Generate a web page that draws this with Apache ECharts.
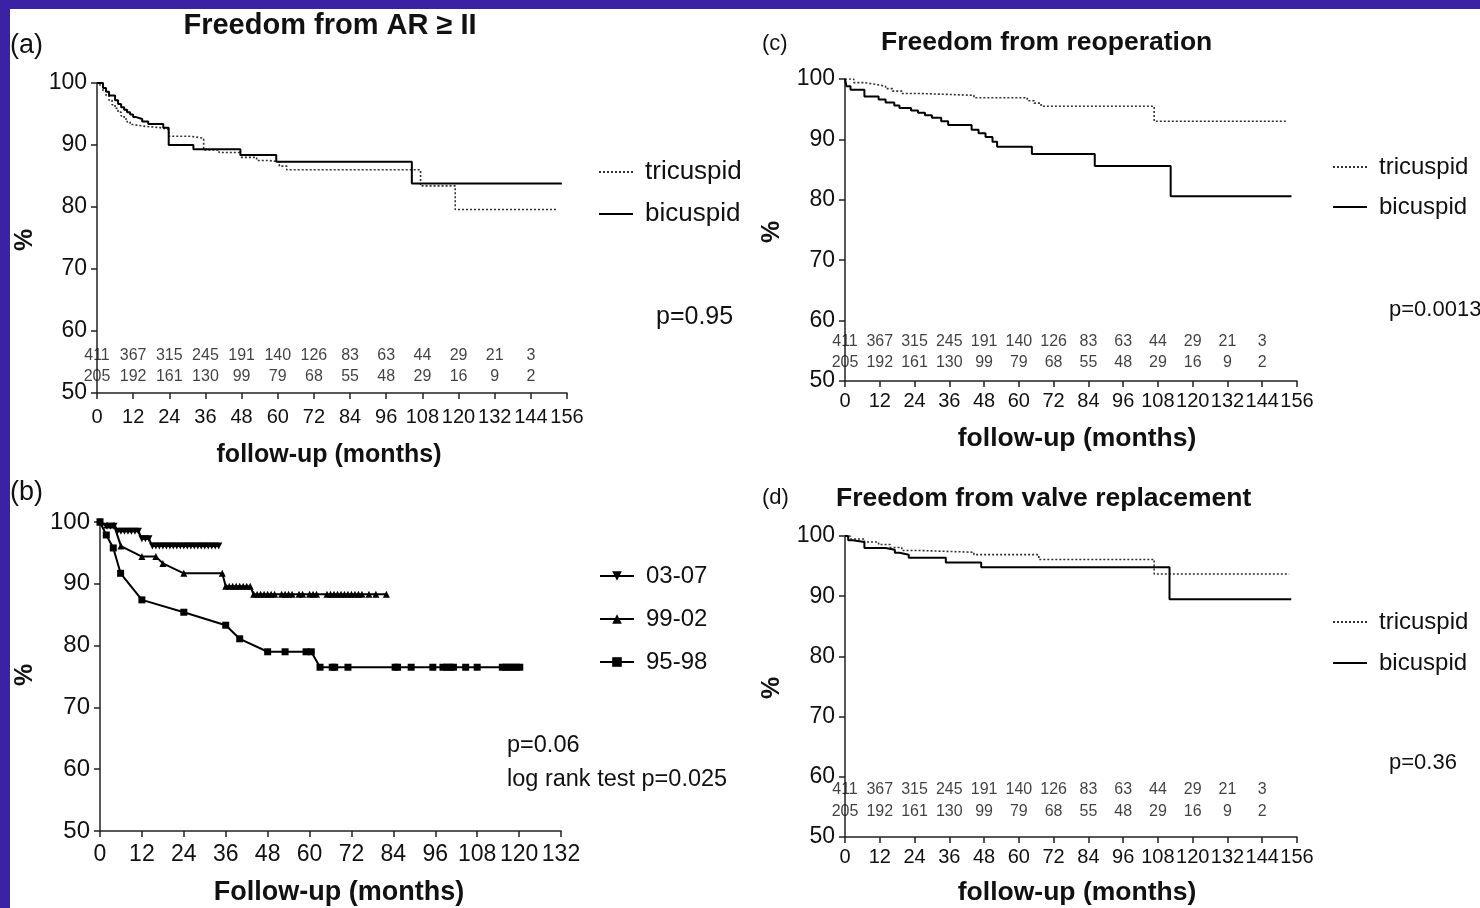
<!DOCTYPE html>
<html>
<head>
<meta charset="utf-8">
<script src="https://cdn.jsdelivr.net/npm/echarts@6/dist/echarts.min.js"></script>
<style>
  html, body { margin: 0; padding: 0; }
  #bg { position: absolute; left: 0; top: 0; width: 1480px; height: 908px; background: #3b21a3; }
  #white { position: absolute; left: 10px; top: 9px; width: 1470px; height: 899px; background: #ffffff; }
  #chart { position: absolute; left: 0; top: 0; width: 1480px; height: 908px; }
</style>
</head>
<body>
<div id="bg"></div>
<div id="white"></div>
<div id="chart"></div>
<script>
// ---------- DATA ----------
// numbers at risk (months 0..144)
const riskMonths = [0, 12, 24, 36, 48, 60, 72, 84, 96, 108, 120, 132, 144];
const riskTricuspid = [411, 367, 315, 245, 191, 140, 126, 83, 63, 44, 29, 21, 3];
const riskBicuspid = [205, 192, 161, 130, 99, 79, 68, 55, 48, 29, 16, 9, 2];

// (a) Freedom from AR >= II  [month, %] step points
const aBicuspid = [[0,100],[2,99.2],[3,98.6],[4,98.0],[6,97.2],[7,96.6],[8,96.1],[9,95.7],[10,95.3],[11,94.9],[12,94.5],[13,94.2],[15,93.8],[17,93.4],[22,92.8],[23.8,90.0],[32,89.3],[47.6,88.4],[59.5,87.3],[104.5,83.8],[154.3,83.8]];
const aTricuspid = [[0,100],[1,99.6],[2,98.8],[3,98.0],[4,97.2],[5,96.5],[6,95.9],[7,95.3],[8,94.7],[9,94.2],[10,93.7],[11,93.3],[12,93.0],[16,92.8],[21,92.5],[23.8,91.4],[31,91.1],[35.4,89.2],[40.5,88.8],[47.6,88.0],[53,87.5],[57,87.3],[60.5,86.6],[63,86.0],[107.4,83.4],[118.9,79.6],[152.4,79.6]];

// (b) by era  [month, %]
const b0307 = [[0,100],[2,99.3],[3,99.3],[4,99.3],[5,98.5],[6,98.5],[7,98.5],[8,98.5],[9,98.5],[10,98.5],[11,98.5],[12,97.3],[13,97.3],[14,97.3],[15,96.1],[16,96.1],[17,96.1],[18,96.1],[19,96.1],[20,96.1],[21,96.1],[22,96.1],[23,96.1],[24,96.1],[25,96.1],[26,96.1],[27,96.1],[28,96.1],[29,96.1],[30,96.1],[31,96.1],[32,96.1],[33,96.1],[34,96.1]];
const b9902 = [[0,100],[2,99.5],[4,99.5],[6,96.1],[12,94.4],[16,94.4],[18,93.3],[24,91.7],[35,91.7],[36,89.6],[37,89.6],[38,89.6],[39,89.6],[40,89.6],[41,89.6],[42,89.6],[43,89.6],[44,88.3],[45,88.3],[46,88.3],[47,88.3],[48,88.3],[49,88.3],[50,88.3],[52,88.3],[53,88.3],[54,88.3],[55,88.3],[57,88.3],[58,88.3],[60,88.3],[61,88.3],[62,88.3],[65,88.3],[66,88.3],[67,88.3],[68,88.3],[69,88.3],[70,88.3],[71,88.3],[72,88.3],[73,88.3],[74,88.3],[75,88.3],[77,88.3],[79,88.3],[82,88.3]];
const b9598 = [[0,100],[1.8,97.9],[3.8,95.8],[5.9,91.7],[12,87.4],[24,85.4],[36,83.3],[40,81.1],[48,79.0],[53,79.0],[59,79.0],[60.5,79.0],[63,76.5],[66.5,76.5],[67.2,76.5],[71,76.5],[84.5,76.5],[85.2,76.5],[89.1,76.5],[95.3,76.5],[98.2,76.5],[99.3,76.5],[100.3,76.5],[101.2,76.5],[104.7,76.5],[108,76.5],[115.2,76.5],[116.2,76.5],[117.2,76.5],[118.2,76.5],[119.2,76.5],[120.2,76.5]];

// (c) Freedom from reoperation
const cBicuspid = [[0,100],[0.5,98.8],[1.9,98.2],[6.7,97.1],[11.6,96.6],[14,96.1],[17,95.6],[18.8,95.2],[22.8,94.8],[25.2,94.4],[27.6,94.0],[30,93.6],[33.2,93.0],[35.6,92.4],[43.7,91.6],[46.1,91.0],[48.5,90.4],[50.9,89.6],[52.5,88.8],[64.5,87.6],[86.2,85.6],[112.4,80.6],[154.1,80.6]];
const cTricuspid = [[0,100],[3,99.4],[6.7,99.1],[10.8,98.8],[14,98.4],[16.4,98.0],[19.6,97.6],[26,97.3],[44.5,96.9],[62.9,96.4],[65.3,96.0],[67.7,95.5],[106.7,93.0],[152.8,93.0]];

// (d) Freedom from valve replacement
const dBicuspid = [[0,100],[1.1,99.3],[2.7,99.0],[6.7,98.0],[14,97.7],[17.2,97.2],[18.8,96.9],[22,96.4],[34.8,95.6],[47,94.8],[112,89.5],[154,89.5]];
const dTricuspid = [[0,100],[1.9,99.5],[6.7,99.0],[11.6,98.6],[15.6,98.1],[19.6,97.6],[25.2,97.3],[44.5,96.9],[66.9,96.1],[106.7,93.7],[153.3,93.7]];

const yTicks = [50, 60, 70, 80, 90, 100];
const pValues = { a: 'p=0.95', b1: 'p=0.06', b2: 'log rank test p=0.025', c: 'p=0.0013', d: 'p=0.36' };

// ---------- CHART ----------
const FONT = "'Liberation Sans', Arial, sans-serif";
const chart = echarts.init(document.getElementById('chart'), null, { renderer: 'canvas' });

// legend icons (styles only)
const LINE_ICON = 'path://M0,0h34v2h-34z';
let dotPath = 'path://';
for (let x = 0; x < 34; x += 4) dotPath += 'M' + x + ',0h2v2h-2z';
const DOT_ICON = dotPath;

const grids = [
  { left: 97,  top: 83,  width: 470, height: 310 },  // a
  { left: 100, top: 522, width: 461, height: 309 },  // b
  { left: 845, top: 79,  width: 452, height: 302 },  // c
  { left: 845, top: 536, width: 452, height: 301 }   // d
];

function xAxis(gi, max, fs, margin) {
  return {
    type: 'value', gridIndex: gi, min: 0, max: max, interval: 12,
    splitLine: { show: false },
    axisLine: { lineStyle: { color: '#222', width: 1.5 } },
    axisTick: { length: 6, lineStyle: { color: '#222', width: 1.5 } },
    axisLabel: { color: '#111', fontSize: fs, fontFamily: FONT, margin: margin,
                 showMinLabel: true, showMaxLabel: true, hideOverlap: false }
  };
}
function yAxis(gi, fs) {
  return {
    type: 'value', gridIndex: gi, min: yTicks[0], max: yTicks[yTicks.length - 1], interval: 10,
    splitLine: { show: false },
    axisLine: { show: true, lineStyle: { color: '#222', width: 1.5 } },
    axisTick: { show: true, length: 6, lineStyle: { color: '#222', width: 1.5 } },
    axisLabel: { color: '#111', fontSize: fs, fontFamily: FONT, margin: 10,
                 showMinLabel: true, showMaxLabel: true }
  };
}

function kmSeries(name, data, idx, dotted) {
  return {
    type: 'line', name: name, xAxisIndex: idx, yAxisIndex: idx,
    data: data, step: 'end', symbol: 'none', animation: false,
    lineStyle: dotted ? { color: '#333', width: 1.6, type: [2, 2] } : { color: '#000', width: 2 },
    itemStyle: { color: dotted ? '#333' : '#000' }
  };
}
function eraSeries(name, data, symbol, rotate) {
  return {
    type: 'line', name: name, xAxisIndex: 1, yAxisIndex: 1,
    data: data, symbol: symbol, symbolSize: 7, symbolRotate: rotate, showSymbol: true, showAllSymbol: true,
    animation: false,
    lineStyle: { color: '#000', width: 2 },
    itemStyle: { color: '#000' }
  };
}
function riskSeries(idx, counts, yPos) {
  return {
    type: 'scatter', name: 'risk' + idx + '_' + yPos, xAxisIndex: idx, yAxisIndex: idx,
    data: riskMonths.map((m, i) => [m, yPos, counts[i]]),
    symbolSize: 1, itemStyle: { color: 'rgba(0,0,0,0)' }, animation: false, silent: true,
    label: { show: true, position: 'inside', formatter: p => String(p.data[2]),
             color: '#111', fontSize: 16, fontFamily: FONT }
  };
}

function legend(left, top, names, fs, gap, withIcons) {
  const data = withIcons
    ? [{ name: names[0], icon: DOT_ICON }, { name: names[1], icon: LINE_ICON }]
    : names;
  return {
    left: left, top: top, orient: 'vertical', data: data,
    itemWidth: 34, itemHeight: 12, itemGap: gap, selectedMode: false,
    textStyle: { fontSize: fs, fontFamily: FONT, color: '#111', lineHeight: fs, padding: [0, 0, 0, 7] }
  };
}

function txt(x, y, text, font, align, rot) {
  return {
    type: 'text', x: x, y: y, rotation: rot || 0,
    style: { text: text, font: font, fill: '#111', align: align || 'left', verticalAlign: 'middle' }
  };
}

const option = {
  backgroundColor: 'transparent',
  animation: false,
  grid: grids,
  xAxis: [xAxis(0, 156, 20, 14), xAxis(1, 132, 23, 12), xAxis(2, 156, 20, 10), xAxis(3, 156, 20, 10)],
  yAxis: [yAxis(0, 23), yAxis(1, 24), yAxis(2, 23), yAxis(3, 23)],
  legend: [
    legend(594, 154, ['tricuspid', 'bicuspid'], 26, 16, true),
    legend(594, 559, ['03-07', '99-02', '95-98'], 24, 19, false),
    legend(1328, 150, ['tricuspid', 'bicuspid'], 24, 16, true),
    legend(1328, 605, ['tricuspid', 'bicuspid'], 24, 17, true)
  ],
  series: [
    kmSeries('tricuspid', aTricuspid, 0, true),
    kmSeries('bicuspid', aBicuspid, 0, false),
    riskSeries(0, riskTricuspid, 56.0),
    riskSeries(0, riskBicuspid, 52.6),

    eraSeries('03-07', b0307, 'triangle', 180),
    eraSeries('99-02', b9902, 'triangle', 0),
    eraSeries('95-98', b9598, 'rect', 0),

    kmSeries('tricuspid', cTricuspid, 2, true),
    kmSeries('bicuspid', cBicuspid, 2, false),
    riskSeries(2, riskTricuspid, 56.5),
    riskSeries(2, riskBicuspid, 53.0),

    kmSeries('tricuspid', dTricuspid, 3, true),
    kmSeries('bicuspid', dBicuspid, 3, false),
    riskSeries(3, riskTricuspid, 57.8),
    riskSeries(3, riskBicuspid, 54.2)
  ],
  graphic: [
    // panel (a)
    txt(10, 46, '(a)', '27px ' + FONT),
    txt(330, 26, 'Freedom from AR \u2265 II', 'bold 29px ' + FONT, 'center'),
    txt(656, 317, pValues.a, '25px ' + FONT),
    txt(329, 455, 'follow-up (months)', 'bold 25px ' + FONT, 'center'),
    txt(25, 240, '%', 'bold 25px ' + FONT, 'center', Math.PI / 2),
    // panel (b)
    txt(10, 493, '(b)', '27px ' + FONT),
    txt(507, 746, pValues.b1, '23.5px ' + FONT),
    txt(507, 780, pValues.b2, '23.5px ' + FONT),
    txt(339, 893, 'Follow-up (months)', 'bold 27px ' + FONT, 'center'),
    txt(25, 675, '%', 'bold 25px ' + FONT, 'center', Math.PI / 2),
    // panel (c)
    txt(762, 44, '(c)', '22px ' + FONT),
    txt(881, 43, 'Freedom from reoperation', 'bold 26.5px ' + FONT),
    txt(1389, 310, pValues.c, '22px ' + FONT),
    txt(1077, 439, 'follow-up (months)', 'bold 26.5px ' + FONT, 'center'),
    txt(772, 232, '%', 'bold 25px ' + FONT, 'center', Math.PI / 2),
    // panel (d)
    txt(762, 498, '(d)', '22px ' + FONT),
    txt(836, 499, 'Freedom from valve replacement', 'bold 26.5px ' + FONT),
    txt(1389, 763, pValues.d, '22px ' + FONT),
    txt(1077, 893, 'follow-up (months)', 'bold 26.5px ' + FONT, 'center'),
    txt(772, 688, '%', 'bold 25px ' + FONT, 'center', Math.PI / 2)
  ]
};
chart.setOption(option);
</script>
</body>
</html>
